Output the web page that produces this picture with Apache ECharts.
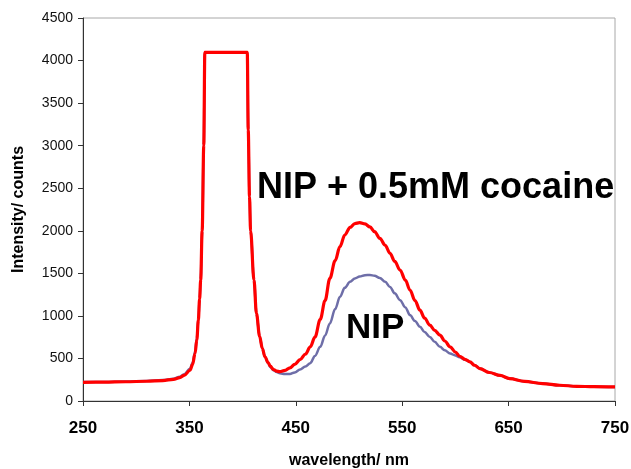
<!DOCTYPE html>
<html>
<head>
<meta charset="utf-8">
<script src="https://cdn.jsdelivr.net/npm/echarts@6/dist/echarts.min.js"></script>
<style>
  html, body { margin: 0; padding: 0; background: #fff; }
</style>
</head>
<body>
<div id="main" style="width:631px;height:469px;"></div>
<script>
  // 波长 / 强度 数据
  var redWl = [250, 270, 290, 310, 325, 335, 341, 345, 350.6, 353, 355.3, 357, 358.4, 359.6, 360.6, 362, 363.5, 364.5,
    370, 380, 390, 400, 404.4, 405.3, 406.5, 407.5, 410.7, 413, 416, 418.5, 421, 424, 426, 429, 432, 435, 440, 444.5,
    449, 454, 459, 463.6, 468, 473, 477.5, 482, 487, 491.5, 496, 501, 505.5, 510, 515, 519.7, 524, 529, 534, 538.5,
    543, 548, 553, 557.3, 562, 566.7, 571, 576, 580.5, 585.5, 590, 595, 600, 604, 609, 613.7, 618, 623, 632, 642,
    651, 665, 682, 698, 714, 730, 750];
  var redVal = [220, 222, 226, 232, 240, 255, 275, 300, 361, 430, 558, 720, 950, 1200, 1420, 2000, 3000, 4096,
    4096, 4096, 4096, 4096, 4096, 3184, 2400, 2000, 1420, 1030, 760, 620, 520, 450, 410, 370, 350, 345, 360, 390,
    430, 485, 550, 636, 750, 960, 1180, 1440, 1650, 1813, 1950, 2040, 2085, 2095, 2080, 2045, 1990, 1911, 1830, 1735,
    1640, 1538, 1420, 1303, 1180, 1067, 975, 891, 830, 773, 705, 636, 575, 526, 490, 459, 420, 381, 335, 300,
    263, 230, 205, 185, 173, 168, 165];

  var blueWl = [250, 270, 290, 310, 325, 335, 341, 345, 350.6, 353, 355.3, 357, 358.4, 359.6, 360.6, 362, 363.5, 364.5,
    370, 380, 390, 400, 404.4, 405.3, 406.5, 407.5, 410.7, 413, 416, 418.5, 421, 424, 426, 429, 432, 435, 440, 444.5,
    449, 454, 459, 463.6, 468, 473, 477.5, 482, 487, 491.5, 496, 501, 505.5, 510, 515, 519.7, 524, 529, 534, 538.5,
    543, 548, 553, 557.3, 562, 566.7, 571, 576, 580.5, 585.5, 590, 595, 600, 604, 609, 613.7, 618, 623, 632, 642,
    651, 665, 682, 698, 714, 730, 750];
  var blueVal = [222, 224, 228, 236, 246, 262, 285, 315, 380, 450, 580, 740, 960, 1200, 1420, 2000, 3000, 4096,
    4096, 4096, 4096, 4096, 4096, 3184, 2400, 2000, 1420, 1030, 760, 620, 520, 445, 400, 362, 340, 325, 316, 318,
    335, 370, 405, 445, 530, 636, 770, 911, 1080, 1224, 1330, 1400, 1440, 1462, 1478, 1480, 1472, 1445, 1400, 1340,
    1265, 1185, 1100, 1009, 940, 871, 810, 753, 695, 636, 595, 558, 535, 515, 485, 459, 420, 381, 335, 300,
    263, 230, 205, 185, 173, 168, 165];

  var xTicks = [250, 350, 450, 550, 650, 750];
  var yTicks = [0, 500, 1000, 1500, 2000, 2500, 3000, 3500, 4000, 4500];

  function pairs(xs, ys) {
    var out = [];
    for (var i = 0; i < xs.length; i++) out.push([xs[i], ys[i]]);
    return out;
  }

  var font = '"Liberation Sans", Arial, sans-serif';
  var chart = echarts.init(document.getElementById("main"));
  chart.setOption({
    animation: false,
    backgroundColor: "#fff",
    textStyle: { fontFamily: font },
    grid: {
      left: 83, right: 16, top: 18, bottom: 68,
      outerBoundsMode: "none",
      containLabel: false,
      show: true, borderColor: "#a8a8a8", borderWidth: 1, backgroundColor: "#fff"
    },
    xAxis: {
      type: "value",
      min: xTicks[0], max: xTicks[xTicks.length - 1], interval: 100,
      name: "wavelength/ nm",
      nameLocation: "middle",
      nameGap: 52,
      nameTextStyle: { fontSize: 16, fontWeight: "bold", color: "#000" },
      axisLine: { show: true, lineStyle: { color: "#333", width: 1 } },
      axisTick: { show: true, length: 5, lineStyle: { color: "#333" } },
      axisLabel: { fontSize: 17, fontWeight: "bold", color: "#000", margin: 19 },
      splitLine: { show: false }
    },
    yAxis: {
      type: "value",
      min: yTicks[0], max: yTicks[yTicks.length - 1], interval: 500,
      name: "Intensity/ counts",
      nameLocation: "middle",
      nameGap: 56,
      nameTextStyle: { fontSize: 16, fontWeight: "bold", color: "#000" },
      axisLine: { show: true, lineStyle: { color: "#333", width: 1 } },
      axisTick: { show: true, length: 5, lineStyle: { color: "#333" } },
      axisLabel: {
        fontSize: 14, color: "#111", margin: 10,
        formatter: function (v) { return String(v); }
      },
      splitLine: { show: false }
    },
    series: [
      {
        name: "NIP",
        type: "line",
        data: pairs(blueWl, blueVal),
        showSymbol: false,
        smooth: 0.35,
        smoothMonotone: "x",
        lineStyle: { color: "#6e6ea8", width: 2.5 },
        z: 2
      },
      {
        name: "NIP + 0.5mM cocaine",
        type: "line",
        data: pairs(redWl, redVal),
        showSymbol: false,
        smooth: 0.35,
        smoothMonotone: "x",
        lineStyle: { color: "#ff0000", width: 3.2 },
        z: 3
      }
    ],
    graphic: [
      {
        type: "text", x: 257, y: 188, z: 10,
        style: { text: "NIP + 0.5mM cocaine", fill: "#000", font: "bold 36px " + font, verticalAlign: "middle" }
      },
      {
        type: "text", x: 346, y: 328, z: 10,
        style: { text: "NIP", fill: "#000", font: "bold 35px " + font, verticalAlign: "middle" }
      }
    ]
  });
</script>
</body>
</html>
